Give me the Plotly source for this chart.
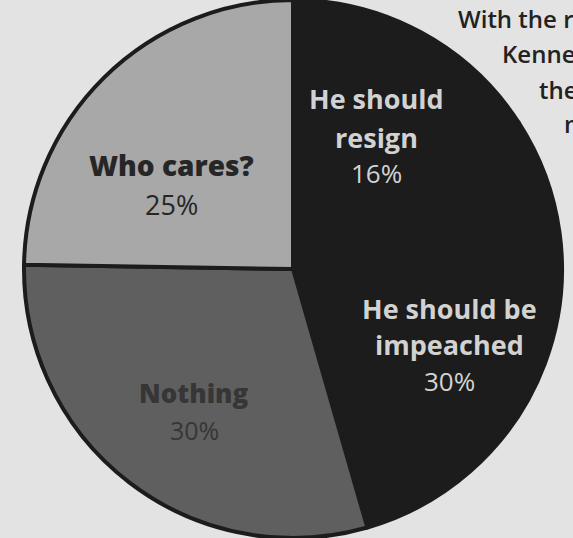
import plotly.graph_objects as go

# ---- data ----
labels = ["He should resign", "He should be impeached", "Nothing", "Who cares?"]
values = [16, 30, 30, 25]
label_lines = [["He should", "resign"], ["He should be", "impeached"], ["Nothing"], ["Who cares?"]]
pct_text = ["16%", "30%", "30%", "25%"]
header_lines = ["With the r", "Kenne", "the", "n"]

# ---- style ----
DARK = "#1c1c1c"
slice_colors = [DARK, DARK, "#5f5f5f", "#a8a8a8"]
text_colors = ["#d2d2d2", "#d2d2d2", "#363636", "#262626"]
label_weights = [700, 700, 800, 800]
bg = "#e3e3e3"
FONT = "Open Sans"
W, H = 573, 538

# label block layout in pixels: x center, y centre of each line
blocks = [
    dict(x=376, ys=[98, 137, 173], size=27),
    dict(x=449, ys=[308, 344, 381], size=27),
    dict(x=194, ys=[393, 430], size=26),
    dict(x=171, ys=[165, 204], size=28),
]

fig = go.Figure(go.Pie(
    labels=labels,
    values=values,
    sort=False,
    direction="clockwise",
    rotation=0,
    textinfo="none",
    hoverinfo="label+percent",
    marker=dict(colors=slice_colors, line=dict(color=DARK, width=4)),
    domain=dict(x=[0.0227, 1.0], y=[0.0, 1.0]),
    showlegend=False,
))

ann = []
for i, b in enumerate(blocks):
    lines = label_lines[i] + [pct_text[i]]
    for j, (line, y) in enumerate(zip(lines, b["ys"])):
        is_pct = j == len(lines) - 1
        ann.append(dict(x=b["x"] / W, y=1 - y / H, xref="paper", yref="paper",
                        text=line, showarrow=False,
                        xanchor="center", yanchor="middle",
                        font=dict(family=FONT, size=b["size"] - (1 if is_pct else 0),
                                  weight=400 if is_pct else label_weights[i],
                                  color=text_colors[i])))

hdr_pos = [(456, 18), (500, 54), (537, 89), (562, 124)]
for t, (hx, hy) in zip(header_lines, hdr_pos):
    ann.append(dict(x=hx / W, y=1 - hy / H, xref="paper", yref="paper",
                    text=t, showarrow=False, xanchor="left", yanchor="middle",
                    font=dict(family=FONT, size=24, weight=600, color="#222222")))

fig.update_layout(
    width=W, height=H,
    margin=dict(l=0, r=0, t=0, b=0),
    paper_bgcolor=bg, plot_bgcolor=bg,
    annotations=ann,
)

fig.write_html("out.html", config={"displayModeBar": False},
               post_script="document.body.style.margin='0px';")
